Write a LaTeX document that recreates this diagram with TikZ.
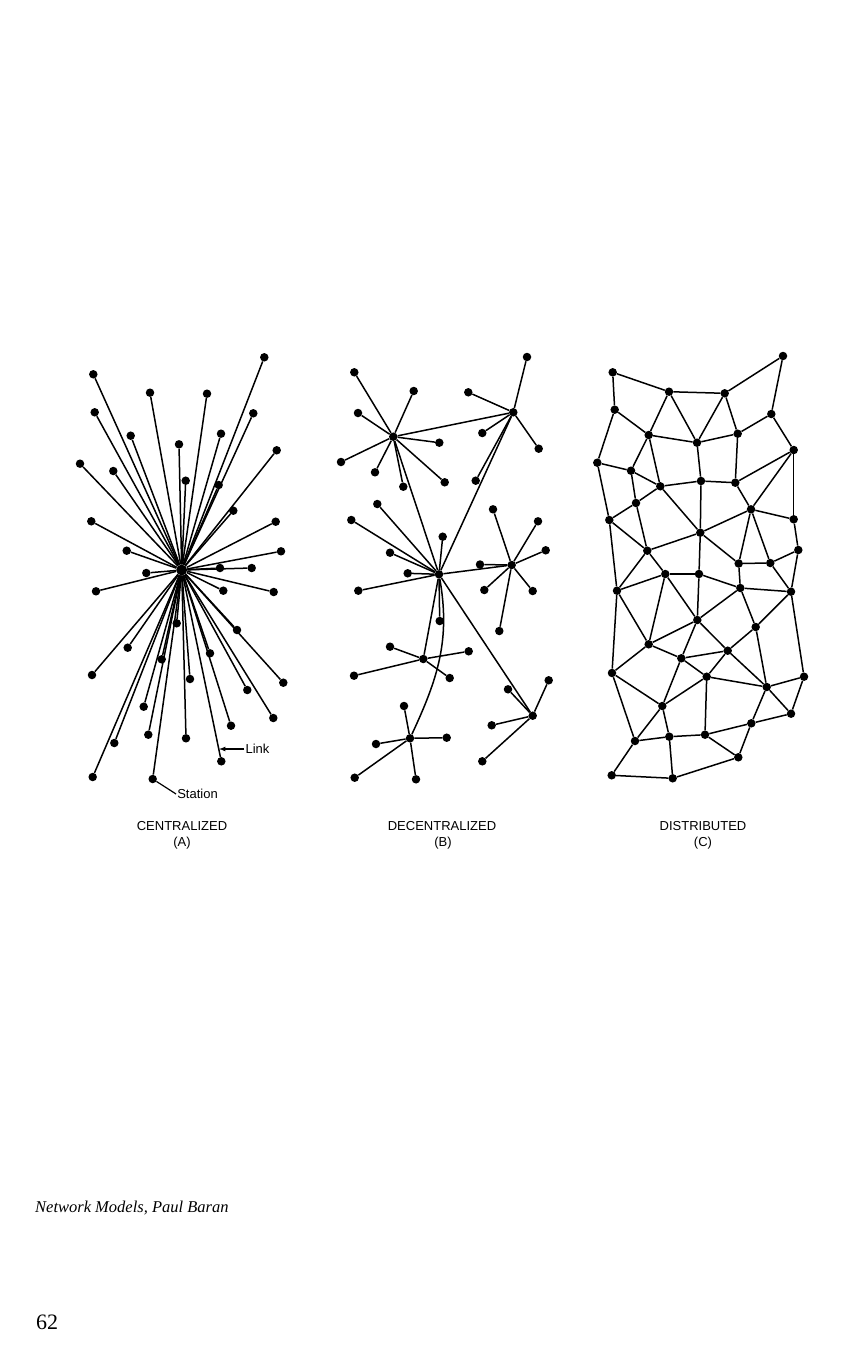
\documentclass[tikz,border=0pt]{standalone}
\usepackage{fontspec}
\setmainfont{Liberation Serif}
\newfontfamily\letterfont{Liberation Sans}
\usepackage{tikz}
\usetikzlibrary{arrows}

\begin{document}
\begin{tikzpicture}[x=1pt,y=-1pt,
  station/.style={circle,fill=black,inner sep=0pt,minimum size=8.5pt},
  hub/.style={station,minimum size=11pt},
  every edge/.style={draw,line width=1.5pt},
  tag/.style={font=\letterfont\fontsize{13}{15}\selectfont,inner sep=1pt}]
\useasboundingbox (0,0) rectangle (861,1349);

% (A) centralized
  \draw (181.7,570) node[hub] (cen) {};
  \draw (93.3,374.3) node[station] (c1) {};
  \draw (264.3,357.3) node[station] (c2) {};
  \draw (150,392.7) node[station] (c3) {};
  \draw (207,393.7) node[station] (c4) {};
  \draw (94.7,412.3) node[station] (c5) {};
  \draw (253.3,413.3) node[station] (c6) {};
  \draw (130.7,435.7) node[station] (c7) {};
  \draw (221,433.7) node[station] (c8) {};
  \draw (179,444.3) node[station] (c9) {};
  \draw (276.7,450.3) node[station] (c10) {};
  \draw (80,463.7) node[station] (c11) {};
  \draw (113.3,471) node[station] (c12) {};
  \draw (185.7,480.7) node[station] (c13) {};
  \draw (218.7,485) node[station] (c14) {};
  \draw (233.3,510.7) node[station] (c15) {};
  \draw (91.3,521.3) node[station] (c16) {};
  \draw (275.7,521.7) node[station] (c17) {};
  \draw (126.7,550.7) node[station] (c18) {};
  \draw (281,551.3) node[station] (c19) {};
  \draw (146.3,573) node[station] (c20) {};
  \draw (220,568) node[station] (c21) {};
  \draw (251.7,568) node[station] (c22) {};
  \draw (96,591.3) node[station] (c23) {};
  \draw (223.3,590.7) node[station] (c24) {};
  \draw (273.7,592) node[station] (c25) {};
  \draw (176.7,623.3) node[station] (c26) {};
  \draw (237,630) node[station] (c27) {};
  \draw (127.7,647.7) node[station] (c28) {};
  \draw (210,653.3) node[station] (c29) {};
  \draw (161.7,659.3) node[station] (c30) {};
  \draw (92,675) node[station] (c31) {};
  \draw (283.3,682.7) node[station] (c32) {};
  \draw (190,679) node[station] (c33) {};
  \draw (247.3,690) node[station] (c34) {};
  \draw (143.7,706.7) node[station] (c35) {};
  \draw (273.3,718) node[station] (c36) {};
  \draw (231,725.7) node[station] (c37) {};
  \draw (148.3,734.7) node[station] (c38) {};
  \draw (114.3,743) node[station] (c39) {};
  \draw (186,738.3) node[station] (c40) {};
  \draw (221.3,761.3) node[station] (c41) {};
  \draw (92.7,777) node[station] (c42) {};
  \draw (152.7,779) node[station] (c43) {};

    \path (cen) edge (c1) edge (c2) edge (c3) edge (c4) edge (c5) edge (c6) edge (c7) edge (c8)
      edge (c9) edge (c10) edge (c11) edge (c12) edge (c13) edge (c14) edge (c15);
    \path (cen) edge (c16) edge (c17) edge (c18) edge (c19) edge (c20) edge (c21) edge (c22)
      edge (c23) edge (c24) edge (c25) edge (c26) edge (c27) edge (c28) edge (c29);
    \path (cen) edge (c30) edge (c31) edge (c32) edge (c33) edge (c34) edge (c35) edge (c36)
      edge (c37) edge (c38) edge (c39) edge (c40) edge (c41) edge (c42) edge (c43);

  \draw (197.5,794) node[tag] (station) {Station};
  \draw (257.5,749) node[tag] (link) {Link};
  \coordinate (linkpt) at (219,749);
    \draw[line width=1.2pt] (station.west) -- (c43);
    \draw[line width=1.2pt,-latex] (link.west) -- (linkpt);

  \draw (182,826) node[tag] (cenname) {CENTRALIZED};
  \draw (182,843) node[tag] (cenletter) {(A)};

% (B) decentralized
  \draw (393.3,436.7) node[station] (dh1) {};
  \draw (513.3,412.3) node[station] (dh2) {};
  \draw (439,574.3) node[station] (dh3) {};
  \draw (511.7,565) node[station] (dh4) {};
  \draw (423.3,659) node[station] (dh5) {};
  \draw (532.7,715.7) node[station] (dh6) {};
  \draw (410,738.3) node[station] (dh7) {};

      \draw (354.3,372.3) node[station] (d1a) {};
      \draw (413.7,391) node[station] (d1b) {};
      \draw (358,413) node[station] (d1c) {};
      \draw (341,462) node[station] (d1d) {};
      \draw (375,472.3) node[station] (d1e) {};
      \draw (403.3,486.7) node[station] (d1f) {};
      \draw (439.3,442.7) node[station] (d1g) {};
      \draw (444.7,482.3) node[station] (d1h) {};

      \draw (527,357) node[station] (d2a) {};
      \draw (468.3,392.3) node[station] (d2b) {};
      \draw (482.3,433) node[station] (d2c) {};
      \draw (538.7,448.7) node[station] (d2d) {};
      \draw (475.7,480.7) node[station] (d2e) {};

      \draw (377.3,504) node[station] (d3a) {};
      \draw (351.3,520) node[station] (d3b) {};
      \draw (442.7,536.7) node[station] (d3c) {};
      \draw (390,552.7) node[station] (d3d) {};
      \draw (407.7,573.3) node[station] (d3e) {};
      \draw (358.3,590.7) node[station] (d3f) {};
      \draw (439.7,621) node[station] (d3g) {};

      \draw (493,509.3) node[station] (d4a) {};
      \draw (538,521.3) node[station] (d4b) {};
      \draw (545.7,550.3) node[station] (d4c) {};
      \draw (480,564.5) node[station] (d4d) {};
      \draw (484.3,590) node[station] (d4e) {};
      \draw (532.7,591) node[station] (d4f) {};
      \draw (499.3,631) node[station] (d4g) {};

      \draw (390,646.7) node[station] (d5a) {};
      \draw (468.7,651.3) node[station] (d5b) {};
      \draw (354,675.7) node[station] (d5c) {};
      \draw (449.7,678) node[station] (d5d) {};

      \draw (548.7,680.3) node[station] (d6a) {};
      \draw (508,689.3) node[station] (d6b) {};
      \draw (491.7,725.3) node[station] (d6c) {};
      \draw (482.3,761.3) node[station] (d6d) {};

      \draw (404,706) node[station] (d7a) {};
      \draw (446.7,737.7) node[station] (d7b) {};
      \draw (376,744) node[station] (d7c) {};
      \draw (354.7,777.7) node[station] (d7d) {};
      \draw (416,779.3) node[station] (d7e) {};

    \path (dh1) edge (d1a) edge (d1b) edge (d1c) edge (d1d) edge (d1e) edge (d1f) edge (d1g) edge (d1h);
    \path (dh2) edge (d2a) edge (d2b) edge (d2c) edge (d2d) edge (d2e);
    \path (dh3) edge (d3a) edge (d3b) edge (d3c) edge (d3d) edge (d3e) edge (d3f) edge (d3g);
    \path (dh4) edge (d4a) edge (d4b) edge (d4c) edge (d4d) edge (d4e) edge (d4f) edge (d4g);
    \path (dh5) edge (d5a) edge (d5b) edge (d5c) edge (d5d);
    \path (dh6) edge (d6a) edge (d6b) edge (d6c) edge (d6d);
    \path (dh7) edge (d7a) edge (d7b) edge (d7c) edge (d7d) edge (d7e);
    \path (dh1) edge (dh2) edge (dh3);
    \path (dh3) edge (dh2) edge (dh4) edge (dh5) edge (dh6);
    \path (dh3) edge[out=-80,in=65] (dh7);

  \draw (442,826) node[tag] (decname) {DECENTRALIZED};
  \draw (443,843) node[tag] (decletter) {(B)};

% (C) distributed
  \draw (612.7,372.3) node[station] (ma1) {};
  \draw (669,391.7) node[station] (ma2) {};
  \draw (724.7,393.3) node[station] (ma3) {};
  \draw (783,356) node[station] (ma4) {};
  \draw (614.7,409.7) node[station] (mb1) {};
  \draw (771.3,414) node[station] (mb2) {};
  \draw (648.7,435) node[station] (mc1) {};
  \draw (697,442.7) node[station] (mc2) {};
  \draw (737.7,433.7) node[station] (mc3) {};
  \draw (793.7,450) node[station] (mc4) {};
  \draw (597.3,462.7) node[station] (md1) {};
  \draw (631,470.7) node[station] (md2) {};
  \draw (660.3,486.3) node[station] (md3) {};
  \draw (701,481) node[station] (md4) {};
  \draw (735.3,482.7) node[station] (md5) {};
  \draw (636,503) node[station] (me1) {};
  \draw (751,509.3) node[station] (me2) {};
  \draw (609.3,520) node[station] (mf1) {};
  \draw (793.7,519.3) node[station] (mf2) {};
  \draw (700.3,532.7) node[station] (mg1) {};
  \draw (647.3,550.7) node[station] (mh1) {};
  \draw (798.3,550) node[station] (mh2) {};
  \draw (738.7,563.5) node[station] (mi1) {};
  \draw (770.3,563) node[station] (mi2) {};
  \draw (617,590.7) node[station] (mj1) {};
  \draw (665.3,574) node[station] (mj2) {};
  \draw (699,574) node[station] (mj3) {};
  \draw (740.3,588) node[station] (mj4) {};
  \draw (791,591.7) node[station] (mj5) {};
  \draw (697.3,620) node[station] (mk1) {};
  \draw (755.7,627) node[station] (mk2) {};
  \draw (648.7,644.3) node[station] (ml1) {};
  \draw (727.7,650.7) node[station] (ml2) {};
  \draw (681.3,658.3) node[station] (ml3) {};
  \draw (612,673) node[station] (mm1) {};
  \draw (706.7,676.7) node[station] (mm2) {};
  \draw (766.7,687) node[station] (mm3) {};
  \draw (804,676.7) node[station] (mm4) {};
  \draw (662.3,706) node[station] (mn1) {};
  \draw (791,713.7) node[station] (mn2) {};
  \draw (751.3,723.3) node[station] (mo1) {};
  \draw (635,741) node[station] (mp1) {};
  \draw (669.3,736.7) node[station] (mp2) {};
  \draw (705,734.7) node[station] (mp3) {};
  \draw (738.3,757.3) node[station] (mq1) {};
  \draw (611.7,775.3) node[station] (mr1) {};
  \draw (672.7,778.3) node[station] (mr2) {};

    \path (ma1) edge (ma2) edge (mb1);
    \path (ma2) edge (ma3) edge (mc1) edge (mc2);
    \path (ma3) edge (ma4) edge (mc2) edge (mc3);
    \path (ma4) edge (mb2);
    \path (mb1) edge (mc1) edge (md1);
    \path (mb2) edge (mc3) edge (mc4);
    \path (mc1) edge (mc2) edge (md2) edge (md3);
    \path (mc2) edge (mc3) edge (md4);
    \path (mc3) edge (md5);
    \path (mc4) edge (md5) edge (me2) edge (mf2);
    \path (md1) edge (md2) edge (mf1);
    \path (md2) edge (md3) edge (me1);
    \path (md3) edge (md4) edge (me1) edge (mg1);
    \path (md4) edge (md5) edge (mg1);
    \path (md5) edge (me2);
    \path (me1) edge (mf1) edge (mh1);
    \path (me2) edge (mg1) edge (mf2) edge (mi1) edge (mi2);
    \path (mf1) edge (mh1) edge (mj1);
    \path (mf2) edge (mh2);
    \path (mg1) edge (mh1) edge (mi1) edge (mj3);
    \path (mh1) edge (mj1) edge (mj2);
    \path (mh2) edge (mi2) edge (mj5);
    \path (mi1) edge (mi2) edge (mj4);
    \path (mi2) edge (mj5);
    \path (mj1) edge (mj2) edge (ml1) edge (mm1);
    \path (mj2) edge (mj3) edge (ml1) edge (mk1);
    \path (mj3) edge (mj4) edge (mk1);
    \path (mj4) edge (mj5) edge (mk1) edge (mk2);
    \path (mj5) edge (mk2) edge (mm4);
    \path (mk1) edge (ml1) edge (ml3) edge (ml2);
    \path (mk2) edge (ml2) edge (mm3);
    \path (ml1) edge (ml3) edge (mm1);
    \path (ml3) edge (ml2) edge (mm2) edge (mn1);
    \path (ml2) edge (mm2) edge (mm3);
    \path (mm1) edge (mn1) edge (mp1);
    \path (mm2) edge (mm3) edge (mn1) edge (mp3);
    \path (mm3) edge (mm4) edge (mn2) edge (mo1);
    \path (mm4) edge (mn2);
    \path (mn1) edge (mp1) edge (mp2);
    \path (mn2) edge (mo1);
    \path (mo1) edge (mq1) edge (mp3);
    \path (mp1) edge (mp2) edge (mr1);
    \path (mp2) edge (mp3) edge (mr2);
    \path (mp3) edge (mq1);
    \path (mr1) edge (mr2);
    \path (mr2) edge (mq1);

  \draw (703,826) node[tag] (disname) {DISTRIBUTED};
  \draw (703,843) node[tag] (disletter) {(C)};

% page text
  \draw (35,1208) node[anchor=west,inner sep=0pt,font=\fontsize{16.5}{19}\selectfont\itshape] (source) {Network Models, Paul Baran};
  \draw (47,1322) node[inner sep=0pt,font=\fontsize{22}{26}\selectfont] (page) {62};

\end{tikzpicture}
\end{document}
